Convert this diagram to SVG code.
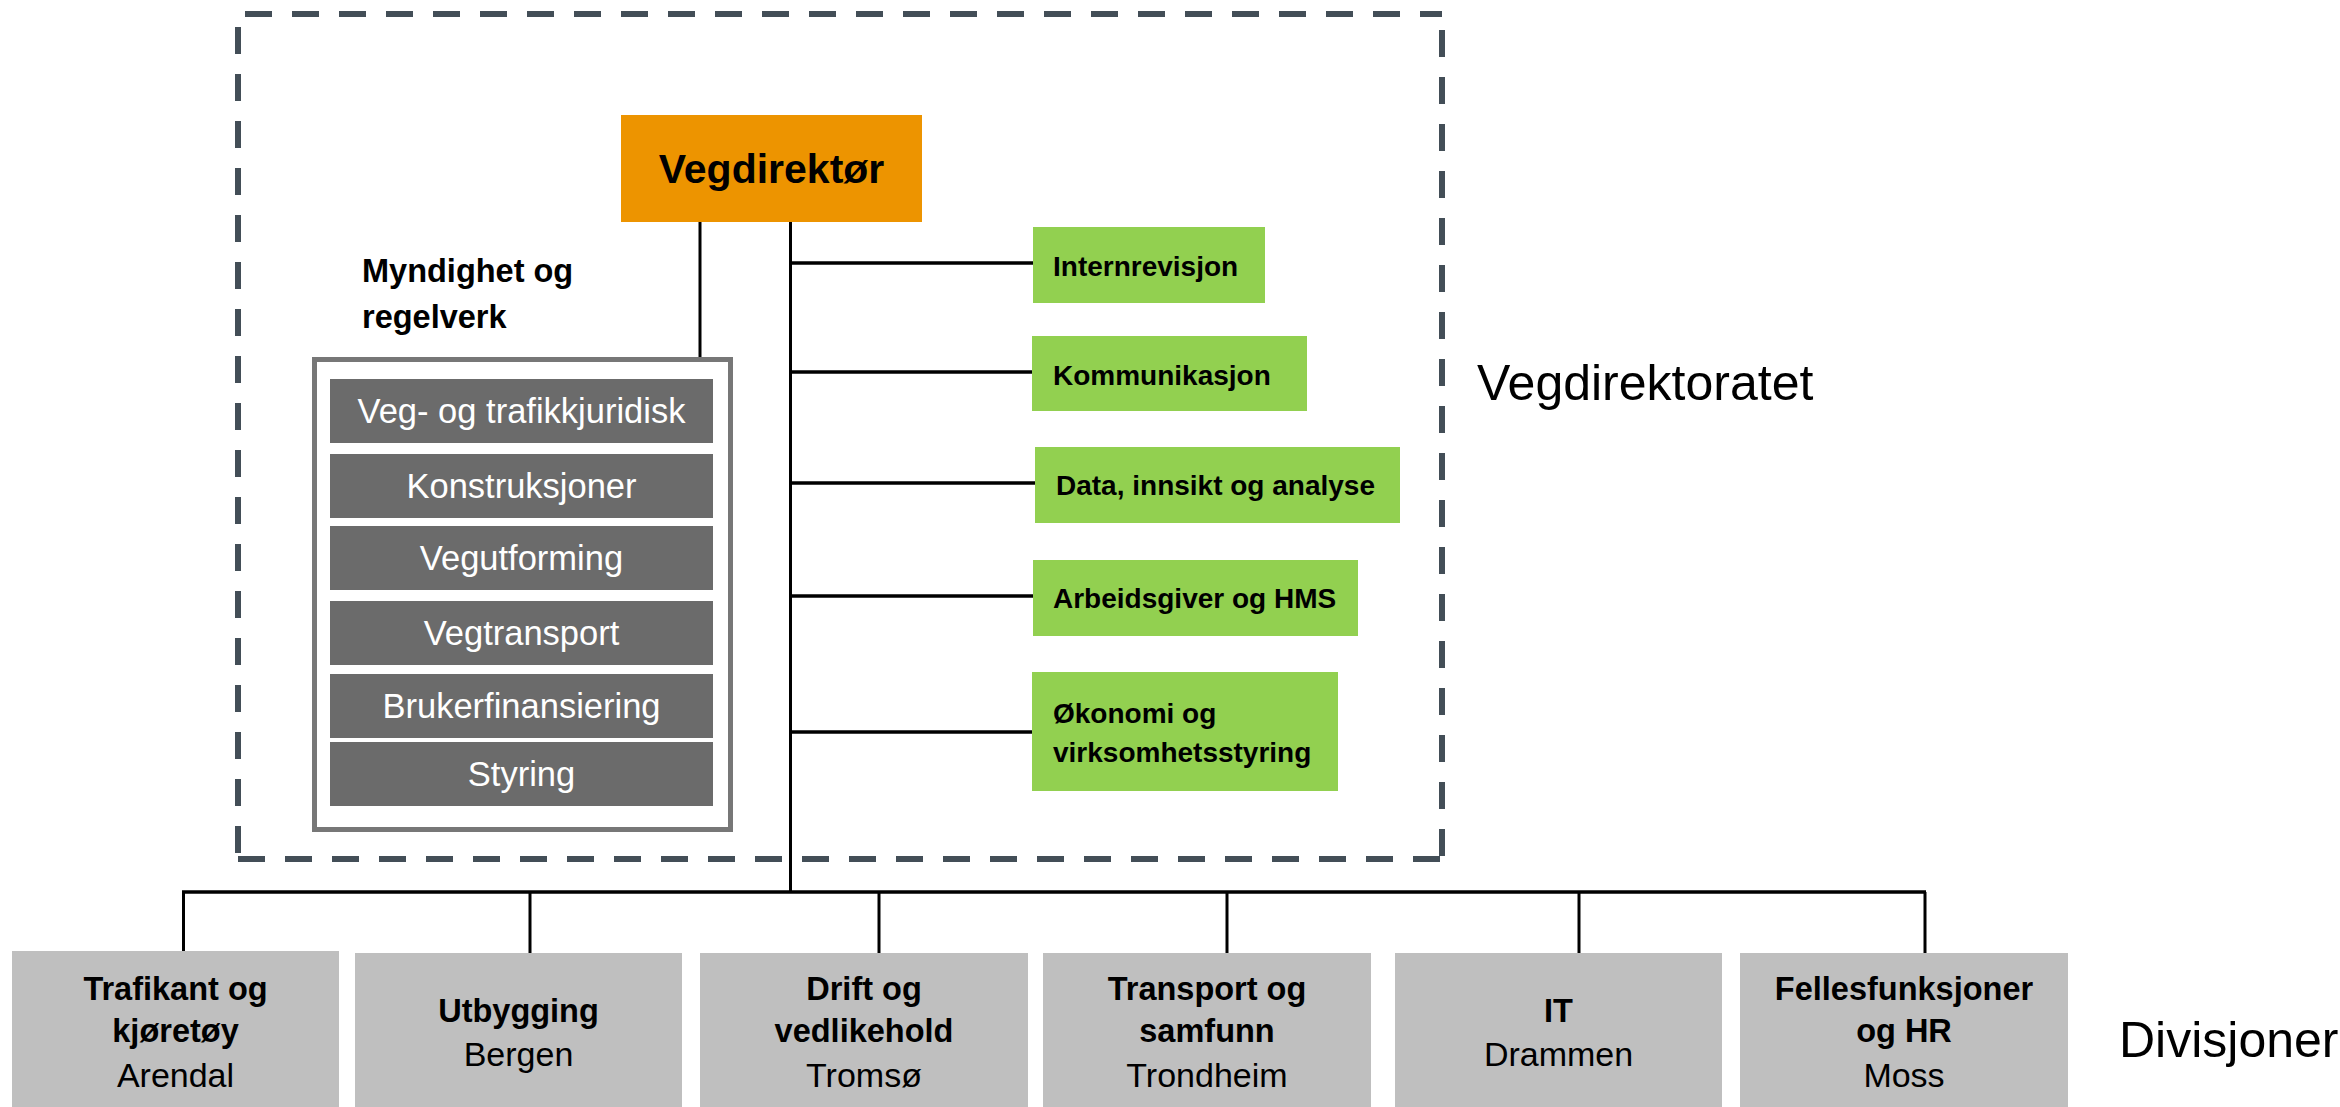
<svg xmlns="http://www.w3.org/2000/svg" width="2340" height="1107" viewBox="0 0 2340 1107">
<style>
  .conn { stroke: #000; stroke-width: 3; fill: none; }
  .hconn { stroke: #000; stroke-width: 3.5; fill: none; }
  .dash { stroke: #434E57; stroke-width: 6; stroke-dasharray: 27 20; fill: none; }
  .green rect { fill: #92D050; }
  .green text { font-family: "Liberation Sans", Arial, sans-serif; font-weight: bold; font-size: 28px; fill: #000; }
  .unit rect { fill: #6B6B6B; }
  .unit text { font-family: "Liberation Sans", Arial, sans-serif; font-size: 34.5px; fill: #fff; text-anchor: middle; }
  .div rect { fill: #BFBFBF; }
  .div text { font-family: "Liberation Sans", Arial, sans-serif; font-size: 34px; fill: #000; text-anchor: middle; }
  .div .b { font-weight: bold; font-size: 32.5px; }
  .big { font-family: "Liberation Sans", Arial, sans-serif; font-size: 50px; fill: #000; }
</style>

<g id="vegdirektoratet-frame">
  <path class="dash" d="M245 14 H1442"/>
  <path class="dash" d="M238 27 V858"/>
  <path class="dash" d="M1442 30 V858"/>
  <path class="dash" d="M238 859 H1442"/>
  <text class="big" x="1477" y="400">Vegdirektoratet</text>
</g>

<g id="connectors">
  <line class="conn" x1="700" y1="221" x2="700" y2="358"/>
  <line class="conn" x1="790.5" y1="221" x2="790.5" y2="893"/>
  <line class="hconn" x1="790" y1="263" x2="1033" y2="263"/>
  <line class="hconn" x1="790" y1="372" x2="1033" y2="372"/>
  <line class="hconn" x1="790" y1="483" x2="1035" y2="483"/>
  <line class="hconn" x1="790" y1="596" x2="1033" y2="596"/>
  <line class="hconn" x1="790" y1="732" x2="1033" y2="732"/>
  <line class="hconn" x1="182" y1="892" x2="1926" y2="892"/>
  <line class="conn" x1="183.5" y1="892" x2="183.5" y2="951"/>
  <line class="conn" x1="530" y1="892" x2="530" y2="953"/>
  <line class="conn" x1="879" y1="892" x2="879" y2="953"/>
  <line class="conn" x1="1227" y1="892" x2="1227" y2="953"/>
  <line class="conn" x1="1579" y1="892" x2="1579" y2="953"/>
  <line class="conn" x1="1925" y1="892" x2="1925" y2="953"/>
</g>

<g id="vegdirektor">
  <rect x="621" y="115" width="301" height="107" fill="#ED9400"/>
  <text x="771.5" y="183" font-family="Liberation Sans, Arial, sans-serif" font-weight="bold" font-size="41" text-anchor="middle">Vegdirektør</text>
</g>

<g id="myndighet">
  <text x="362" y="282" font-family="Liberation Sans, Arial, sans-serif" font-weight="bold" font-size="32.5">Myndighet og</text>
  <text x="362" y="328" font-family="Liberation Sans, Arial, sans-serif" font-weight="bold" font-size="32.5">regelverk</text>
  <rect x="314.5" y="359.5" width="416" height="470" fill="#fff" stroke="#777777" stroke-width="5"/>
</g>
<g id="unit-veg" class="unit"><rect x="330" y="379" width="383" height="64"/><text x="521.5" y="423">Veg- og trafikkjuridisk</text></g>
<g id="unit-konstruksjoner" class="unit"><rect x="330" y="454" width="383" height="64"/><text x="521.5" y="498">Konstruksjoner</text></g>
<g id="unit-vegutforming" class="unit"><rect x="330" y="526" width="383" height="64"/><text x="521.5" y="570">Vegutforming</text></g>
<g id="unit-vegtransport" class="unit"><rect x="330" y="601" width="383" height="64"/><text x="521.5" y="645">Vegtransport</text></g>
<g id="unit-brukerfinansiering" class="unit"><rect x="330" y="674" width="383" height="64"/><text x="521.5" y="718">Brukerfinansiering</text></g>
<g id="unit-styring" class="unit"><rect x="330" y="742" width="383" height="64"/><text x="521.5" y="786">Styring</text></g>

<g id="internrevisjon" class="green"><rect x="1033" y="227" width="232" height="76"/><text x="1053" y="276">Internrevisjon</text></g>
<g id="kommunikasjon" class="green"><rect x="1032" y="336" width="275" height="75"/><text x="1053" y="385">Kommunikasjon</text></g>
<g id="data" class="green"><rect x="1035" y="447" width="365" height="76"/><text x="1056" y="495">Data, innsikt og analyse</text></g>
<g id="arbeidsgiver" class="green"><rect x="1033" y="560" width="325" height="76"/><text x="1053" y="608">Arbeidsgiver og HMS</text></g>
<g id="okonomi" class="green"><rect x="1032" y="672" width="306" height="119"/><text x="1053" y="723">Økonomi og</text><text x="1053" y="762">virksomhetsstyring</text></g>

<g id="div-trafikant" class="div"><rect x="12" y="951" width="327" height="156"/><text class="b" x="175.5" y="1000">Trafikant og</text><text class="b" x="175.5" y="1042">kjøretøy</text><text x="175.5" y="1087">Arendal</text></g>
<g id="div-utbygging" class="div"><rect x="355" y="953" width="327" height="154"/><text class="b" x="518.5" y="1022">Utbygging</text><text x="518.5" y="1066">Bergen</text></g>
<g id="div-drift" class="div"><rect x="700" y="953" width="328" height="154"/><text class="b" x="864" y="1000">Drift og</text><text class="b" x="864" y="1042">vedlikehold</text><text x="864" y="1087">Tromsø</text></g>
<g id="div-transport" class="div"><rect x="1043" y="953" width="328" height="154"/><text class="b" x="1207" y="1000">Transport og</text><text class="b" x="1207" y="1042">samfunn</text><text x="1207" y="1087">Trondheim</text></g>
<g id="div-it" class="div"><rect x="1395" y="953" width="327" height="154"/><text class="b" x="1558.5" y="1022">IT</text><text x="1558.5" y="1066">Drammen</text></g>
<g id="div-felles" class="div"><rect x="1740" y="953" width="328" height="154"/><text class="b" x="1904" y="1000">Fellesfunksjoner</text><text class="b" x="1904" y="1042">og HR</text><text x="1904" y="1087">Moss</text></g>

<text class="big" x="2119" y="1057" font-size="48.5">Divisjoner</text>
</svg>
